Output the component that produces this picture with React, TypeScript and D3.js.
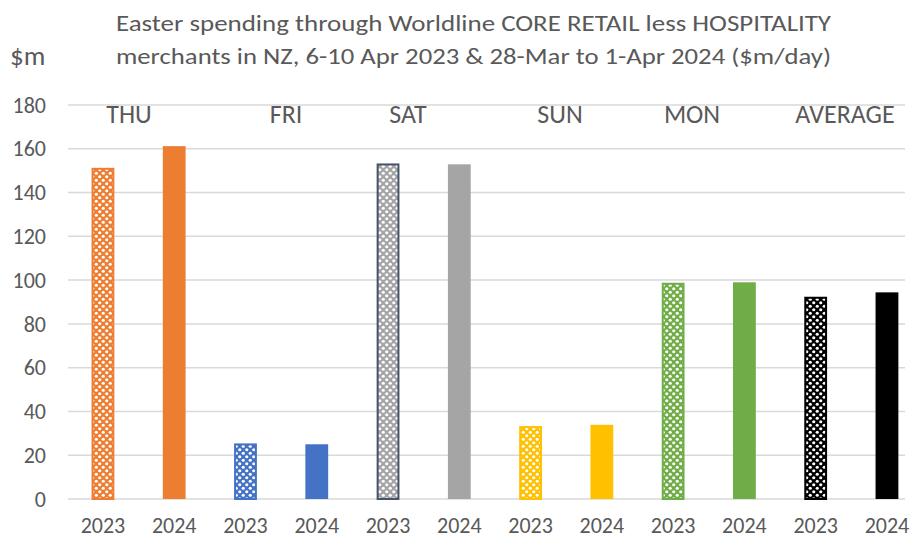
import React from "react";
import * as d3 from "d3";

const categories = ["THU 2023", "THU 2024", "FRI 2023", "FRI 2024", "SAT 2023", "SAT 2024", "SUN 2023", "SUN 2024", "MON 2023", "MON 2024", "AVG 2023", "AVG 2024"];
const yearLabels = ["2023", "2024", "2023", "2024", "2023", "2024", "2023", "2024", "2023", "2024", "2023", "2024"];
const values = [151.3, 161.2, 25.4, 25.0, 153.3, 152.9, 33.3, 33.9, 98.8, 99.0, 92.4, 94.4];
const hatched = [true, false, true, false, true, false, true, false, true, false, true, false];
const dayLabels = ["THU", "FRI", "SAT", "SUN", "MON", "AVERAGE"];
const yTicks = [0, 20, 40, 60, 80, 100, 120, 140, 160, 180];
const titleLines = [
  "Easter spending through Worldline CORE RETAIL less HOSPITALITY",
  "merchants in NZ, 6-10 Apr 2023 & 28-Mar to 1-Apr 2024 ($m/day)",
];

// styles
const dayColors = ["#ed7d31", "#4472c4", "#a5a5a5", "#ffc000", "#70ad47", "#000000"];
const outlineColors = ["#ed7d31", "#4472c4", "#44546a", "#ffc000", "#70ad47", "#000000"];
const dayLabelX = [129, 286, 408, 560, 692, 845];

const W = 911;
const H = 540;
const FONT = "Carlito, Calibri, Lato, 'Open Sans', sans-serif";
const TEXT = "#595959";

export default function App() {
  const x = d3.scaleBand<string>().domain(categories).range([67.3, 922.6]).paddingInner(0.68).paddingOuter(0.34);
  const y = d3.scaleLinear().domain([0, 180]).range([499, 105]);

  return (
    <svg width={W} height={H} style={{ position: "absolute", left: 0, top: 0, background: "#fff" }}>
      <defs>
        {dayColors.map((c, i) => (
          <pattern key={i} id={`pat${i}`} width={7} height={7} patternUnits="userSpaceOnUse">
            <rect width={7} height={7} fill={c} />
            <circle cx={1.75} cy={1.75} r={1.6} fill="#fff" />
            <circle cx={5.25} cy={5.25} r={1.6} fill="#fff" />
          </pattern>
        ))}
      </defs>
      <rect width={W} height={H} fill="#fff" />
      {yTicks.map((t) => (
        <g key={t}>
          <line x1={68} x2={905} y1={y(t)} y2={y(t)} stroke="#d9d9d9" strokeWidth={1.5} />
          <text x={46} y={y(t)} dy="0.35em" textAnchor="end" fontFamily={FONT} fontSize={22} fill={TEXT}>
            {t}
          </text>
        </g>
      ))}
      {categories.map((c, i) => {
        const d = Math.floor(i / 2);
        const bx = x(c)!;
        const bw = x.bandwidth();
        const top = y(values[i]);
        const h = y(0) - top;
        return hatched[i] ? (
          <rect key={c} x={bx + 1} y={top + 1} width={bw - 2} height={h - 1} fill={`url(#pat${d})`} stroke={outlineColors[d]} strokeWidth={2} />
        ) : (
          <rect key={c} x={bx} y={top} width={bw} height={h} fill={dayColors[d]} />
        );
      })}
      {categories.map((c, i) => (
        <text key={c} x={x(c)! + x.bandwidth() / 2} y={533} textAnchor="middle" fontFamily={FONT} fontSize={22} fill={TEXT}>
          {yearLabels[i]}
        </text>
      ))}
      {dayLabels.map((l, i) => (
        <text key={l} x={dayLabelX[i]} y={123} textAnchor="middle" fontFamily={FONT} fontSize={26} fill={TEXT}>
          {l}
        </text>
      ))}
      <text x={116} y={31} fontFamily={FONT} fontSize={22} fill={TEXT} textLength={715} lengthAdjust="spacingAndGlyphs">
        {titleLines[0]}
      </text>
      <text x={116} y={64} fontFamily={FONT} fontSize={22} fill={TEXT} textLength={715} lengthAdjust="spacingAndGlyphs">
        {titleLines[1]}
      </text>
      <text x={10} y={65} fontFamily={FONT} fontSize={27} fill={TEXT}>
        $m
      </text>
    </svg>
  );
}
